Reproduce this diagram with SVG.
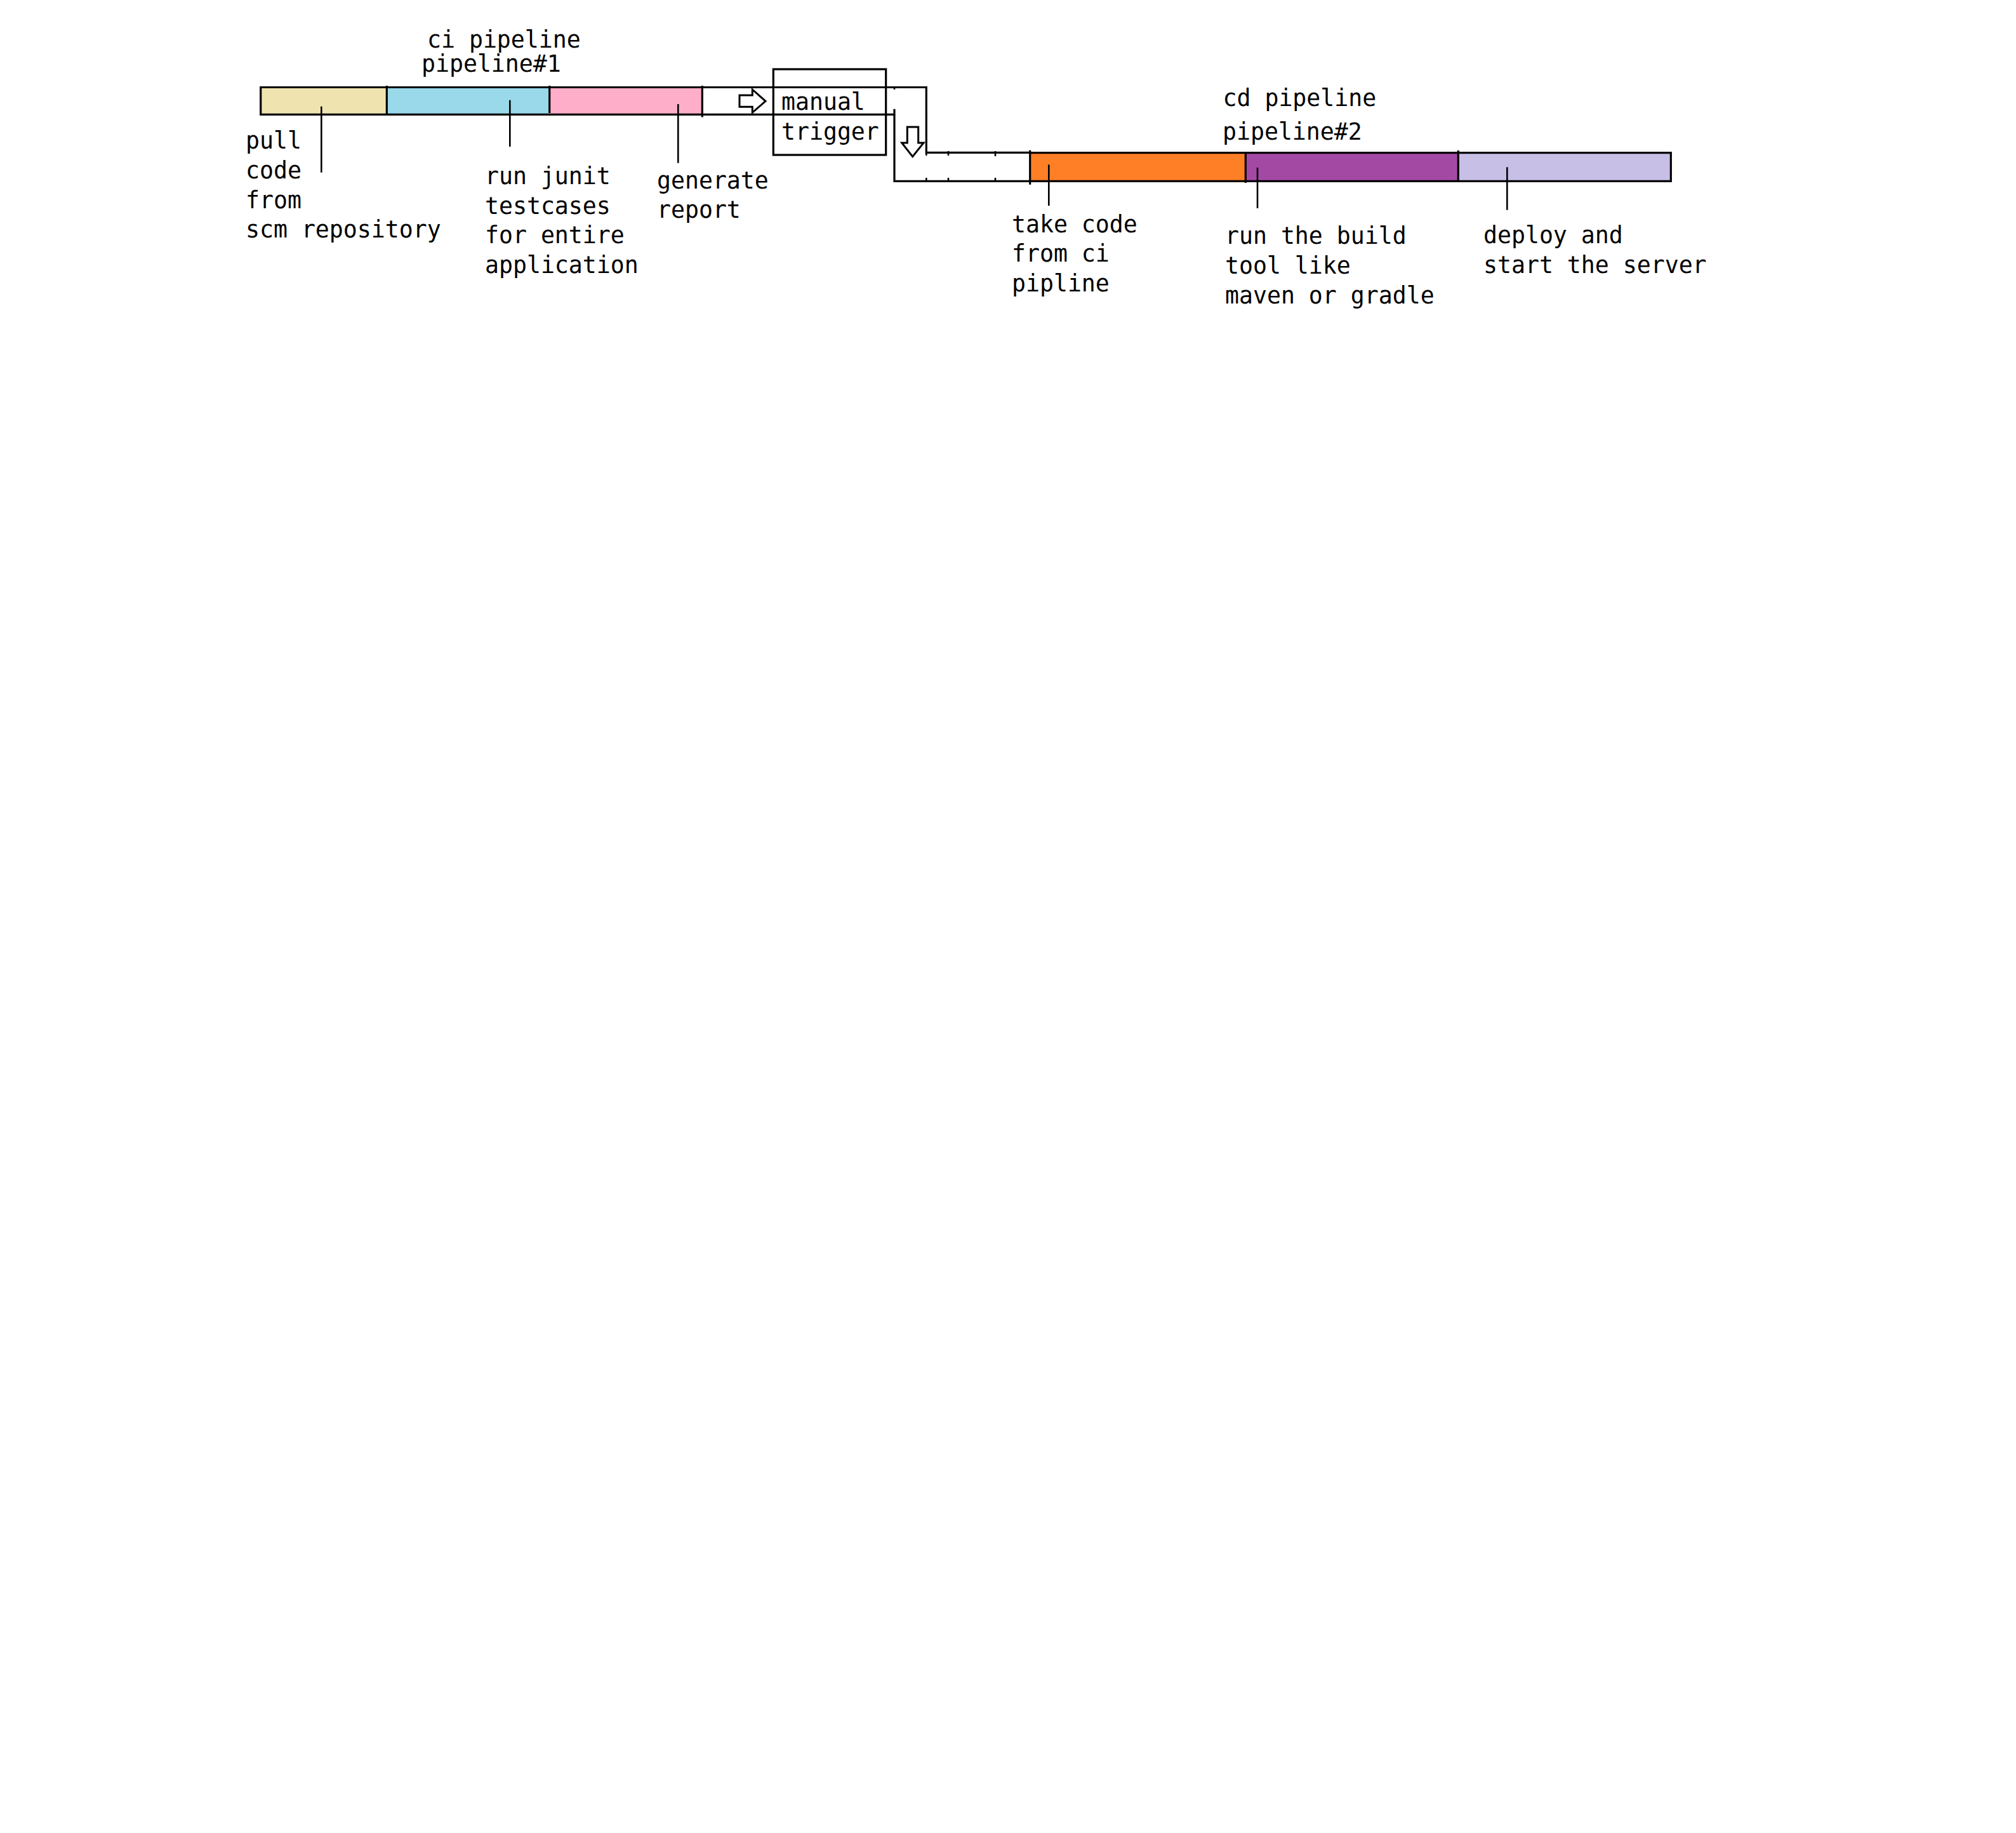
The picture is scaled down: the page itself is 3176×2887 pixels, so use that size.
<svg xmlns="http://www.w3.org/2000/svg" width="3176" height="2887" viewBox="0 0 3176 2887">
<style>
.t{font-family:"DejaVu Sans Mono","Liberation Mono",monospace;font-size:36.5px;fill:#000}
.o{fill:none;stroke:#000;stroke-width:3.2}
.l{fill:none;stroke:#000;stroke-width:2.6}
.k{fill:none;stroke:#000;stroke-width:2.6}
.a{fill:#fff;stroke:#000;stroke-width:3;stroke-linejoin:miter}
</style>
<rect width="3176" height="2887" fill="#fff"/>
<g id="ci-title">
<text class="t" x="673" y="75">ci pipeline</text>
<text class="t" x="664" y="113">pipeline#1</text>
</g>
<g id="ci-pull">
<rect x="410.7" y="137.5" width="198.6" height="42.8" fill="#EFE4B0"/>
</g>
<g id="ci-test">
<rect x="609.3" y="137.5" width="256.4" height="42.8" fill="#99D9EA"/>
</g>
<g id="ci-report">
<rect x="865.7" y="137.5" width="240.6" height="42.8" fill="#FFAEC9"/>
</g>
<g id="cd-take">
<rect x="1622.7" y="240.7" width="339.6" height="44.6" fill="#FF7F27"/>
</g>
<g id="cd-build">
<rect x="1962.3" y="240.7" width="335" height="44.6" fill="#A349A4"/>
</g>
<g id="cd-deploy">
<rect x="2297.3" y="240.7" width="335" height="44.6" fill="#C8BFE7"/>
</g>
<g id="cd-title">
<text class="t" x="1926.5" y="166.7">cd pipeline</text>
<text class="t" x="1926" y="220">pipeline#2</text>
</g>
<g id="manual-trigger">
<rect class="o" x="1218.3" y="109" width="177.4" height="135"/>
<text class="t" x="1231" y="173.3">manual</text>
<text class="t" x="1231" y="220">trigger</text>
</g>
<g id="connectors">
<path class="o" d="M1459.3,137.5 H410.7 V180.4 H1410"/>
<line class="o" x1="609.3" y1="135" x2="609.3" y2="180"/>
<line class="o" x1="865.7" y1="135" x2="865.7" y2="178"/>
<line class="o" x1="1106.3" y1="135" x2="1106.3" y2="184.5"/>
<path class="o" d="M1459.3,136 V240.4 H1622.7"/>
<path class="o" d="M1409,171.7 V285.3 H1622.7"/>
<path class="o" d="M1622.7,240.7 H2632.3 V285.4 H1622.7"/>
<line class="o" x1="1622.7" y1="236.7" x2="1622.7" y2="290.7"/>
<line class="o" x1="1962.3" y1="240" x2="1962.3" y2="288"/>
<line class="o" x1="2297.3" y1="237" x2="2297.3" y2="285"/>
<line class="k" x1="1409" y1="136" x2="1409" y2="141"/>
<line class="k" x1="1459.3" y1="178" x2="1459.3" y2="183"/>
<line class="k" x1="1459.3" y1="238" x2="1459.3" y2="245"/>
<line class="k" x1="1494" y1="238" x2="1494" y2="245"/>
<line class="k" x1="1568" y1="238" x2="1568" y2="246"/>
<line class="k" x1="1459.3" y1="280" x2="1459.3" y2="287"/>
<line class="k" x1="1494" y1="280" x2="1494" y2="287"/>
<line class="k" x1="1568" y1="280" x2="1568" y2="285"/>
<polygon class="a" points="1165,150 1185.3,150 1185.3,141 1206,159.3 1185.3,177.3 1185.3,168.3 1165,168.3"/>
<polygon class="a" points="1429.3,200 1446.7,200 1446.7,225 1455,225 1437.7,246.7 1420.7,225 1429.3,225"/>
<line class="l" x1="506.3" y1="167.7" x2="506.3" y2="271.7"/>
<line class="l" x1="803.3" y1="157.7" x2="803.3" y2="231"/>
<line class="l" x1="1068.3" y1="164" x2="1068.3" y2="256.7"/>
<line class="l" x1="1652.3" y1="259.3" x2="1652.3" y2="324"/>
<line class="l" x1="1981" y1="264" x2="1981" y2="328"/>
<line class="l" x1="2374.3" y1="263.3" x2="2374.3" y2="330.7"/>
</g>
<g id="labels">
<text class="t" x="387" y="234.3">pull</text>
<text class="t" x="387" y="281">code</text>
<text class="t" x="387" y="327.7">from</text>
<text class="t" x="387" y="374.3">scm repository</text>
<text class="t" x="764" y="290">run junit</text>
<text class="t" x="764" y="336.7">testcases</text>
<text class="t" x="764" y="383.3">for entire</text>
<text class="t" x="764" y="430">application</text>
<text class="t" x="1035" y="296.7">generate</text>
<text class="t" x="1035" y="343.3">report</text>
<text class="t" x="1594" y="365.7">take code</text>
<text class="t" x="1594" y="412.3">from ci</text>
<text class="t" x="1594" y="459">pipline</text>
<text class="t" x="1930" y="384.3">run the build</text>
<text class="t" x="1930" y="431">tool like</text>
<text class="t" x="1930" y="477.7">maven or gradle</text>
<text class="t" x="2337" y="383.3">deploy and</text>
<text class="t" x="2337" y="430">start the server</text>
</g>
</svg>
